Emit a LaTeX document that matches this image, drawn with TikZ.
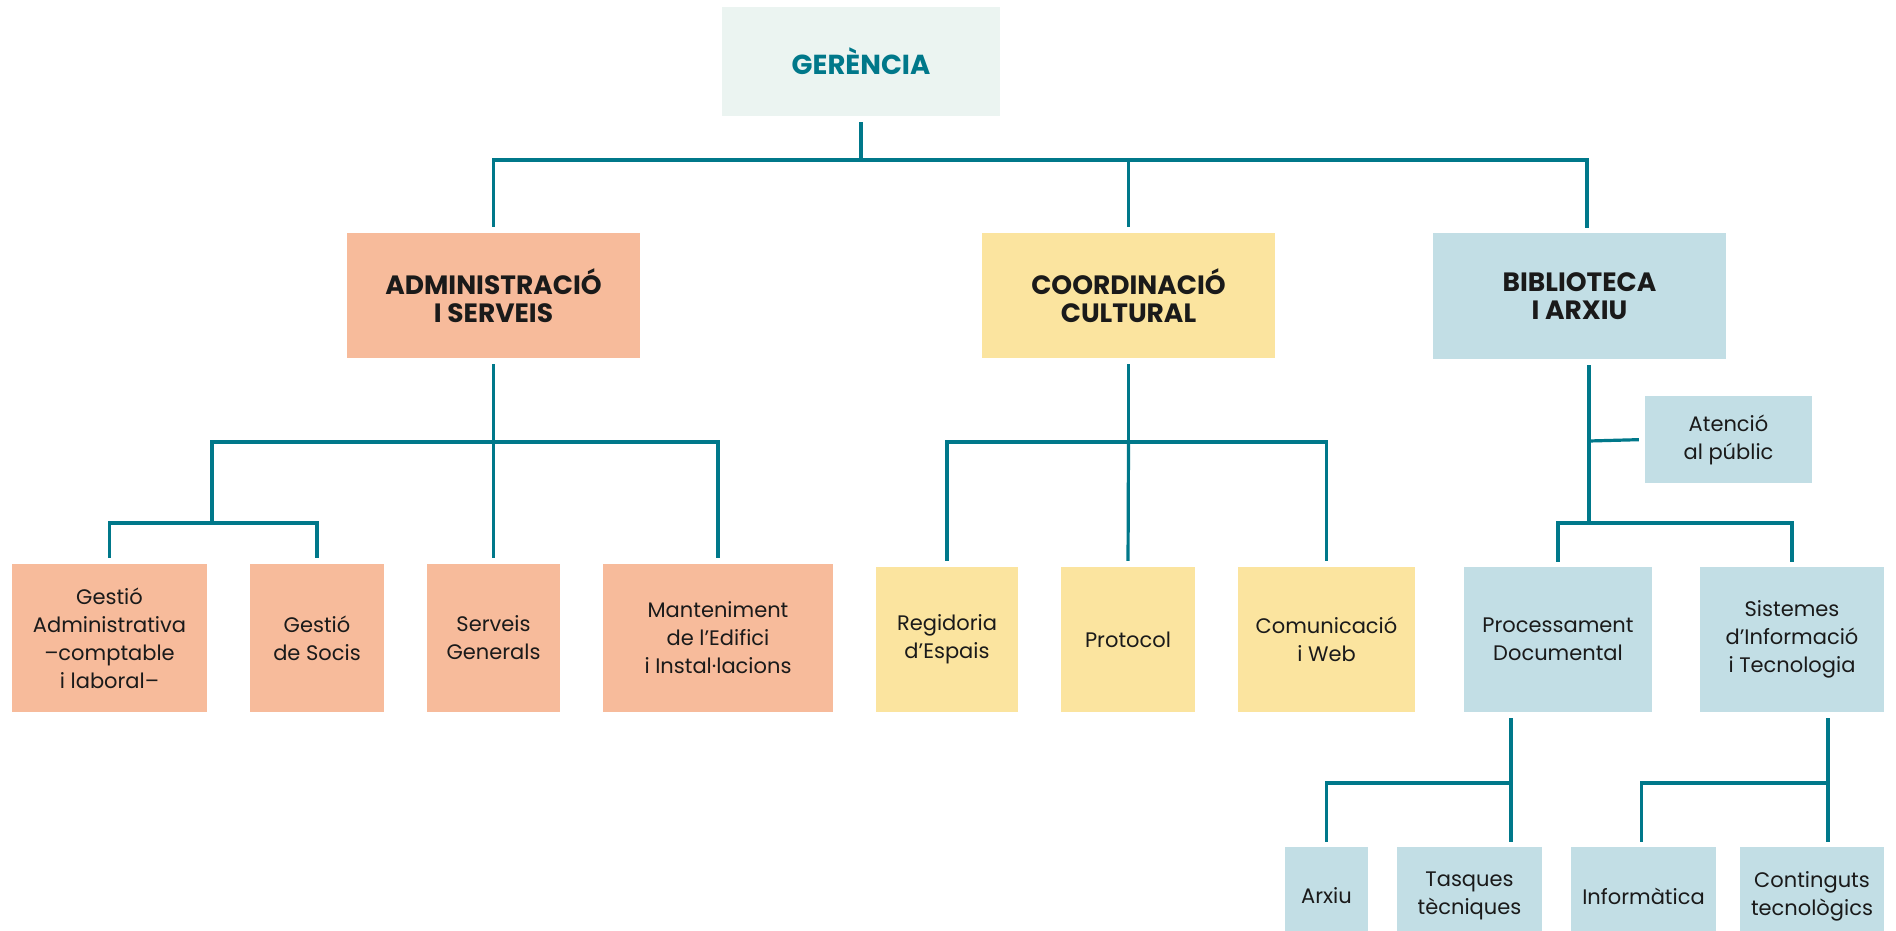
\documentclass[tikz,border=0pt]{standalone}
\usepackage{fontspec}
\setmainfont{Poppins}
\definecolor{lineC}{HTML}{00788A}
\definecolor{gerC}{HTML}{EBF4F1}
\definecolor{admC}{HTML}{F7BB9B}
\definecolor{cooC}{HTML}{FBE49F}
\definecolor{bibC}{HTML}{C2DEE5}
\definecolor{txtC}{HTML}{1A1A1A}
\tikzset{
  box/.style={rectangle, inner sep=0pt, align=center, text=txtC,
    font=\fontsize{21}{28}\selectfont},
  headbox/.style={box, font=\fontsize{26.5}{28}\selectfont\bfseries},
  conn/.style={draw=lineC, line width=3.2pt},
  adm/.style={fill=admC},
  coo/.style={fill=cooC},
  bib/.style={fill=bibC},
}
\begin{document}
\begin{tikzpicture}[x=1pt,y=-1pt]
\useasboundingbox (0,0) rectangle (1896,931);
\clip (0,0) rectangle (1896,931);
% level 1
\node[headbox, fill=gerC, text=lineC, font=\fontsize{27.5}{28}\selectfont\bfseries, minimum width=278pt, minimum height=109pt] (ger) at (861,61.5) {GERÈNCIA};
% level 2
\node[headbox, adm, minimum width=293pt, minimum height=125pt] (adm) at (493.5,295.5) {ADMINISTRACIÓ\\I SERVEIS};
\node[headbox, coo, minimum width=293pt, minimum height=125pt] (coo) at (1128.5,295.5) {COORDINACIÓ\\CULTURAL};
\node[headbox, bib, minimum width=293pt, minimum height=126pt] (bib) at (1579.5,296) {BIBLIOTECA\\I ARXIU};
% admin children
\node[box, adm, minimum width=195pt, minimum height=148pt] (a1) at (109.5,638) {Gestió\\Administrativa\\–comptable\\i laboral–};
\node[box, adm, minimum width=134pt, minimum height=148pt] (a2) at (317,638) {Gestió\\de Socis};
\node[box, adm, minimum width=133pt, minimum height=148pt] (a3) at (493.5,638) {Serveis\\Generals};
\node[box, adm, minimum width=230pt, minimum height=148pt] (a4) at (718,638) {Manteniment\\de l’Edifici\\i Instal·lacions};
% coord children
\node[box, coo, minimum width=142pt, minimum height=145pt] (c1) at (947,639.5) {Regidoria\\d’Espais};
\node[box, coo, minimum width=134pt, minimum height=145pt] (c2) at (1128,639.5) {Protocol};
\node[box, coo, minimum width=177pt, minimum height=145pt] (c3) at (1326.5,639.5) {Comunicació\\i Web};
% biblio children
\node[box, bib, minimum width=167pt, minimum height=87pt] (atn) at (1728.5,439.5) {Atenció\\al públic};
\node[box, bib, minimum width=188pt, minimum height=145pt] (pro) at (1558,639.5) {Processament\\Documental};
\node[box, bib, minimum width=184pt, minimum height=145pt] (sis) at (1792,639.5) {Sistemes\\d’Informació\\i Tecnologia};
% bottom
\node[box, bib, minimum width=83pt, minimum height=98pt] (arx) at (1326.5,896) {Arxiu};
\node[box, bib, minimum width=145pt, minimum height=98pt] (tas) at (1469.5,896) {Tasques\\tècniques};
\node[box, bib, minimum width=145pt, minimum height=98pt] (inf) at (1643.5,896) {Informàtica};
\node[box, bib, minimum width=144pt, minimum height=98pt] (con) at (1812,896) {Continguts\\tecnològics};
% junctions
\coordinate (jg) at (861,160);
\coordinate (ja) at (493.5,442);
\coordinate (ja2) at (212,523);
\coordinate (jc) at (1128.5,442);
\coordinate (jb) at (1589,523);
\coordinate (jat) at (1589,441);
\coordinate (jp) at (1511,783);
\coordinate (js) at (1828,783);
% connectors
\draw[conn, shorten <=6pt] (ger.south) -- (jg);
\draw[conn, shorten >=6pt] (jg) -| (adm.north);
\draw[conn, shorten >=6pt] (jg) -| (coo.north);
\draw[conn, shorten >=5pt] (jg) -| ([xshift=7.5pt]bib.north);
\draw[conn, shorten <=6pt] (adm.south) -- (ja);
\draw[conn] (ja) -| (ja2);
\draw[conn, shorten >=6pt] (ja2) -| (a1.north);
\draw[conn, shorten >=6pt] (ja2) -| (a2.north);
\draw[conn, shorten >=6pt] (ja) -- (a3.north);
\draw[conn, shorten >=6pt] (ja) -| (a4.north);
\draw[conn, shorten <=6pt] (coo.south) -- (jc);
\draw[conn, shorten >=6pt] (jc) -| (c1.north);
\draw[conn, shorten >=6pt] (jc) -- (c2.north);
\draw[conn, shorten >=6pt] (jc) -| (c3.north);
\draw[conn, shorten <=6pt] ([xshift=9.5pt]bib.south) -- (jb);
\draw[conn, shorten >=6pt] (jat) -- (atn.west);
\draw[conn, shorten >=5pt] (jb) -| (pro.north);
\draw[conn, shorten >=5pt] (jb) -| (sis.north);
\draw[conn, shorten <=6pt] ([xshift=-47pt]pro.south) -- (jp);
\draw[conn, shorten >=5pt] (jp) -| (arx.north);
\draw[conn, shorten >=5pt] (jp) -- (tas.north -| jp);
\draw[conn, shorten <=6pt] ([xshift=36pt]sis.south) -- (js);
\draw[conn, shorten >=5pt] (js) -| ([xshift=-2pt]inf.north);
\draw[conn, shorten >=5pt] (js) -- (con.north -| js);
\end{tikzpicture}
\end{document}
